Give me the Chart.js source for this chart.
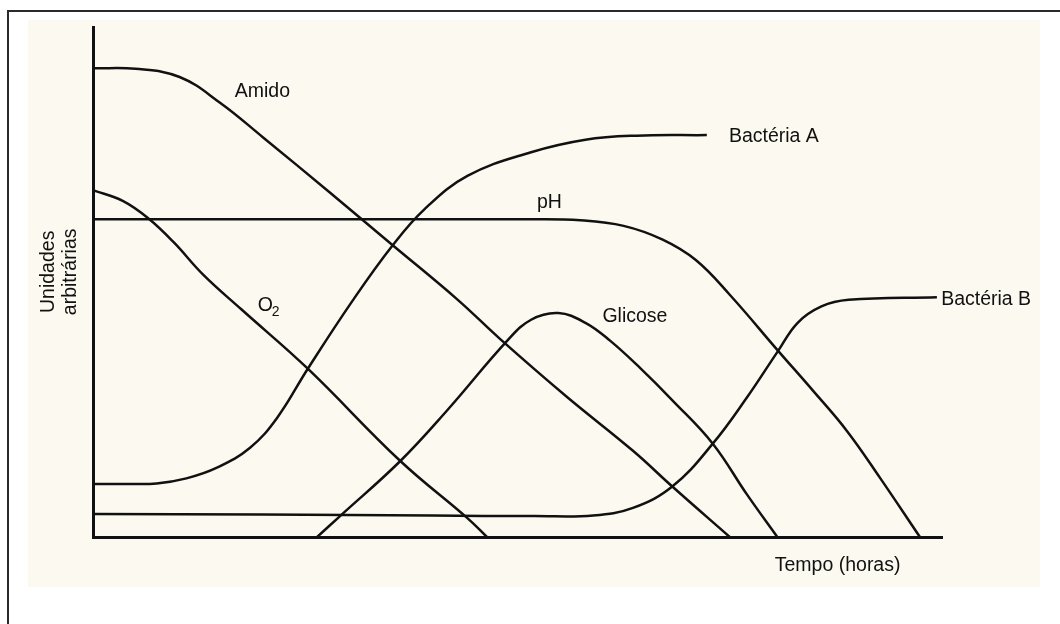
<!DOCTYPE html>
<html>
<head>
<meta charset="utf-8">
<script src="https://cdn.jsdelivr.net/npm/chart.js@4.4.0/dist/chart.umd.min.js"></script>
<style>
  body { margin: 0; background: #fff; }
  .folha { position: relative; width: 1060px; height: 624px; overflow: hidden; }
  .moldura { position: absolute; left: 7px; top: 10px; width: 1100px; height: 700px;
             border-left: 2px solid #2a2a2a; border-top: 2px solid #2a2a2a; }
  .papel { position: absolute; left: 28px; top: 20px; width: 1012px; height: 567px; background: #fcfaf0; }
  #grafico { position: absolute; left: 0; top: 0; }
</style>
</head>
<body>
<div class="folha">
  <div class="moldura"></div>
  <div class="papel"></div>
  <canvas id="grafico" width="1060" height="624"></canvas>
</div>
<script>
  // valores (unidades arbitrárias, 0-100 nos dois eixos)
  const amidoX = [0, 5.0, 10.2, 15.0, 20.0, 28.0, 35.3, 42.9, 47.9, 55.8, 63.6, 68.3, 75.0];
  const amidoY = [91.9, 91.8, 90.2, 85.1, 78.4, 67.4, 57.2, 46.6, 38.9, 27.5, 16.9, 9.8, 0];

  const o2X = [0, 3.5, 6.5, 9.5, 13.0, 17.5, 25.3, 36.2, 44.1, 46.4];
  const o2Y = [68.0, 65.9, 62.5, 57.8, 51.4, 44.6, 33.0, 14.9, 3.7, 0];

  const phX = [0, 51.5, 57.4, 62.5, 67.1, 71.0, 75.0, 80.7, 84.8, 88.8, 92.7, 97.4];
  const phY = [62.3, 62.3, 62.1, 61.0, 58.3, 54.3, 47.5, 36.5, 28.7, 20.8, 11.6, 0];

  const bactAX = [0, 4.0, 7.5, 11.0, 14.6, 18.5, 21.7, 25.3, 30.6, 35.3, 39.0, 44.1, 51.5, 58.0, 64.0, 72.3];
  const bactAY = [10.4, 10.4, 10.5, 11.5, 13.6, 17.5, 23.4, 33.0, 46.4, 57.2, 64.2, 70.8, 75.4, 77.9, 78.7, 78.8];

  const glicoseX = [26.4, 29.1, 36.2, 41.7, 48.8, 51.6, 54.8, 58.0, 60.9, 64.4, 68.3, 73.0, 77.0, 80.6];
  const glicoseY = [0, 4.1, 14.9, 24.8, 38.5, 42.6, 43.9, 42.0, 38.5, 33.2, 26.7, 18.3, 8.4, 0];

  const bactBX = [0, 20.0, 40.0, 52.0, 58.9, 63.6, 68.3, 73.0, 77.0, 80.7, 83.0, 85.8, 89.0, 99.4];
  const bactBY = [4.5, 4.4, 4.2, 4.1, 4.2, 5.7, 10.0, 18.3, 27.3, 36.5, 42.0, 45.2, 46.5, 47.0];

  // rótulos das curvas: texto e ponto de ancoragem (unidades do gráfico)
  const rotulos = ['Amido', 'O', 'pH', 'Glicose', 'Bactéria A', 'Bactéria B', 'Tempo (horas)'];
  const rotuloX = [16.7, 19.4, 52.3, 60.0, 74.9, 99.9, 80.3];
  const rotuloY = [86.2, 44.4, 64.6, 42.2, 77.4, 45.4, -6.7];
  const tituloY = ['Unidades', 'arbitrárias'];

  const FONTE = '19.5px "Liberation Sans", Arial, sans-serif';
  const COR = '#111';

  function pontos(xs, ys) {
    return xs.map(function (x, i) { return { x: x, y: ys[i] }; });
  }

  function serie(nome, xs, ys) {
    return {
      label: nome,
      data: pontos(xs, ys),
      showLine: true,
      borderColor: COR,
      borderWidth: 2.5,
      pointRadius: 0,
      tension: 0.4,
      fill: false
    };
  }

  const textos = {
    id: 'textos',
    afterDraw: function (chart) {
      const ctx = chart.ctx, sx = chart.scales.x, sy = chart.scales.y, area = chart.chartArea;
      ctx.save();
      ctx.fillStyle = COR;
      ctx.textAlign = 'left';
      ctx.textBaseline = 'alphabetic';
      rotulos.forEach(function (t, i) {
        const px = sx.getPixelForValue(rotuloX[i]);
        const py = sy.getPixelForValue(rotuloY[i]);
        ctx.font = FONTE;
        ctx.fillText(t, px, py);
        if (t === 'O') {
          const w = ctx.measureText(t).width;
          ctx.font = '14px "Liberation Sans", Arial, sans-serif';
          ctx.fillText('2', px + w - 1, py + 5);
        }
      });
      // título do eixo vertical, em duas linhas
      const cy = sy.getPixelForValue(52);
      ctx.font = FONTE;
      ctx.textAlign = 'center';
      [area.left - 39, area.left - 17].forEach(function (bx, i) {
        ctx.save();
        ctx.translate(bx, cy);
        ctx.rotate(-Math.PI / 2);
        ctx.fillText(tituloY[i], 0, 0);
        ctx.restore();
      });
      ctx.restore();
    }
  };

  const eixo = {
    type: 'linear',
    min: 0,
    max: 100,
    grid: { display: false, drawTicks: false },
    ticks: { display: false },
    border: { display: true, color: '#111', width: 3 },
    title: { display: false }
  };

  const ctx = document.getElementById('grafico').getContext('2d');
  window.graficoCurvas = new Chart(ctx, {
    type: 'scatter',
    data: {
      datasets: [
        serie('Amido', amidoX, amidoY),
        serie('O2', o2X, o2Y),
        serie('pH', phX, phY),
        serie('Bactéria A', bactAX, bactAY),
        serie('Glicose', glicoseX, glicoseY),
        serie('Bactéria B', bactBX, bactBY)
      ]
    },
    options: {
      responsive: false,
      animation: false,
      layout: { padding: { left: 93, right: 118, top: 27, bottom: 87 } },
      plugins: { legend: { display: false }, tooltip: { enabled: false } },
      scales: { x: Object.assign({}, eixo), y: Object.assign({}, eixo) }
    },
    plugins: [textos]
  });
</script>
</body>
</html>
